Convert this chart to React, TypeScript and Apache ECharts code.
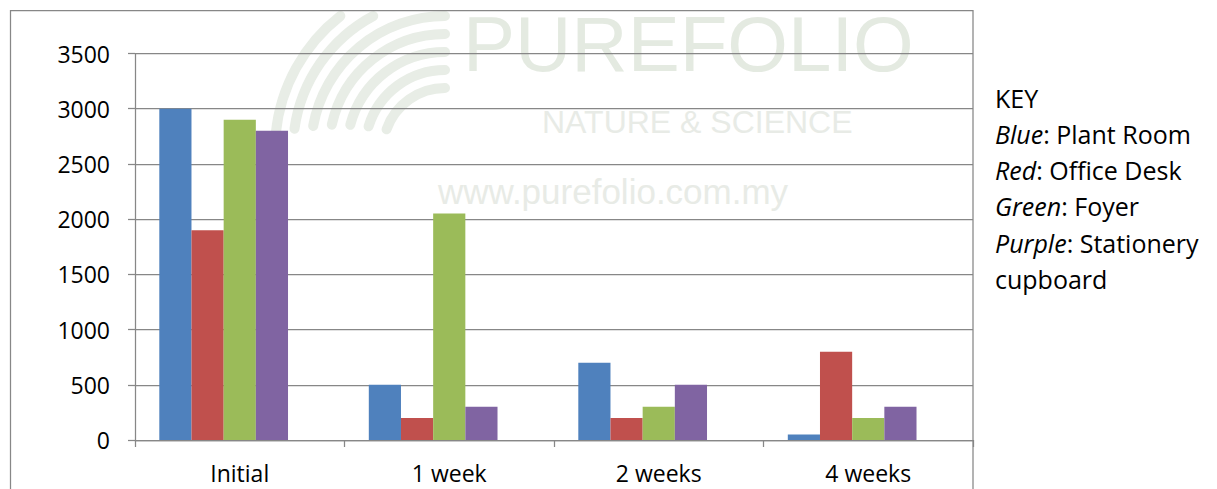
import React, { useEffect, useRef } from "react";
import * as echarts from "echarts";

// ---- data ----
const categories = ["Initial", "1 week", "2 weeks", "4 weeks"];
const plantRoom = [3000, 500, 700, 50];
const officeDesk = [1900, 200, 200, 800];
const foyer = [2900, 2050, 300, 200];
const stationeryCupboard = [2800, 300, 500, 300];
const emptySeries: number[] = [];
const yMin = 0;
const yMax = 3500;
const yStep = 500;

const keyTitle = "KEY";
const keyColours = ["Blue", "Red", "Green", "Purple"];
const keyNames = ["Plant Room", "Office Desk", "Foyer", "Stationery"];
const keyWrap = "cupboard";

const watermarkTitle = "PUREFOLIO";
const watermarkSub = "NATURE & SCIENCE";
const watermarkUrl = "www.purefolio.com.my";

const COLORS = ["#4F81BD", "#C0504D", "#9BBB59", "#8064A2"];
const GRID_GREY = "#878787";
const FONT = "'Open Sans', sans-serif";

export default function App() {
  const ref = useRef<HTMLDivElement>(null);

  useEffect(() => {
    if (!ref.current) return;
    const chart = echarts.init(ref.current, undefined, { renderer: "svg" });

    const keyLineY0 = 97.5;
    const keyLineStep = 36.3;
    const keyX = 995;
    const keyTexts: any[] = [];
    keyTexts.push({
      type: "text",
      x: keyX,
      y: keyLineY0,
      style: { text: keyTitle, font: `25px ${FONT}`, fill: "#000", verticalAlign: "middle" },
    });
    keyColours.forEach((c, i) => {
      keyTexts.push({
        type: "text",
        x: keyX,
        y: keyLineY0 + keyLineStep * (i + 1),
        style: {
          text: `{i|${c}}{n|: ${keyNames[i]}}`,
          verticalAlign: "middle",
          rich: {
            i: { fontFamily: FONT, fontSize: 25, fontStyle: "italic", fill: "#000", color: "#000" },
            n: { fontFamily: FONT, fontSize: 25, fill: "#000", color: "#000" },
          },
        },
      });
    });
    keyTexts.push({
      type: "text",
      x: keyX,
      y: keyLineY0 + keyLineStep * 5,
      style: { text: keyWrap, font: `25px ${FONT}`, fill: "#000", verticalAlign: "middle" },
    });

    // faint watermark fan (logo)
    const fan: any[] = [];
    const radii = [170, 152, 134, 116, 98, 80, 62];
    radii.forEach((r, k) => {
      const cx = 445;
      const cy = 150;
      const maxSin = Math.min(1, (cy - 16) / r);
      const end = Math.PI + Math.asin(maxSin);
      const start = Math.PI + 0.1 + k * 0.04;
      fan.push({
        type: "arc",
        z: -5,
        shape: { cx, cy, r, startAngle: start, endAngle: end, clockwise: true },
        style: { stroke: "#e8ede6", lineWidth: 10, fill: null, lineCap: "round" },
        silent: true,
      });
    });

    chart.setOption({
      animation: false,
      grid: { left: 135, right: 244, top: 53.5, bottom: 49, containLabel: false },
      xAxis: {
        type: "category",
        data: categories,
        axisLine: { show: true, lineStyle: { color: GRID_GREY, width: 1.25 } },
        axisTick: { show: true, length: 7, lineStyle: { color: GRID_GREY, width: 1.25 } },
        axisLabel: { fontFamily: FONT, fontSize: 23, color: "#000", margin: 21 },
        splitLine: { show: false },
      },
      yAxis: {
        type: "value",
        min: yMin,
        max: yMax,
        interval: yStep,
        axisLine: { show: true, lineStyle: { color: GRID_GREY, width: 1.25 } },
        axisTick: { show: true, length: 7, lineStyle: { color: GRID_GREY, width: 1.25 } },
        axisLabel: {
          fontFamily: FONT,
          fontSize: 23,
          color: "#000",
          margin: 25,
          formatter: (v: number) => String(v),
        },
        splitLine: { show: true, lineStyle: { color: GRID_GREY, width: 1.25 } },
      },
      series: [
        { name: "Plant Room", type: "bar", data: plantRoom, itemStyle: { color: COLORS[0] } },
        { name: "Office Desk", type: "bar", data: officeDesk, itemStyle: { color: COLORS[1] } },
        { name: "Foyer", type: "bar", data: foyer, itemStyle: { color: COLORS[2] } },
        { name: "Stationery cupboard", type: "bar", data: stationeryCupboard, itemStyle: { color: COLORS[3] } },
        { name: "", type: "bar", data: emptySeries },
      ].map((s) => ({ ...s, barGap: "0%", barCategoryGap: "23.2%" })),
      graphic: [
        ...fan,
        {
          type: "text",
          z: -5,
          x: 463,
          y: 44,
          silent: true,
          style: {
            text: watermarkTitle,
            font: "78px 'Liberation Sans', sans-serif",
            fill: "#e4eae1",
            verticalAlign: "middle",
          },
        },
        {
          type: "text",
          z: -5,
          x: 542,
          y: 121.5,
          silent: true,
          style: {
            text: watermarkSub,
            font: "32px 'Liberation Sans', sans-serif",
            fill: "#e8ebe6",
            verticalAlign: "middle",
          },
        },
        {
          type: "text",
          z: -5,
          x: 438,
          y: 191,
          silent: true,
          style: {
            text: watermarkUrl,
            font: "35px 'Liberation Sans', sans-serif",
            fill: "#e8ebe6",
            verticalAlign: "middle",
          },
        },
        {
          type: "rect",
          z: 10,
          silent: true,
          shape: { x: 10.5, y: 10.5, width: 962.5, height: 520 },
          style: { fill: null, stroke: GRID_GREY, lineWidth: 1.25 },
        },
        ...keyTexts,
      ],
    });

    return () => chart.dispose();
  }, []);

  return (
    <div
      ref={ref}
      style={{ position: "absolute", left: 0, top: 0, width: 1217, height: 489, background: "#fff" }}
    />
  );
}
